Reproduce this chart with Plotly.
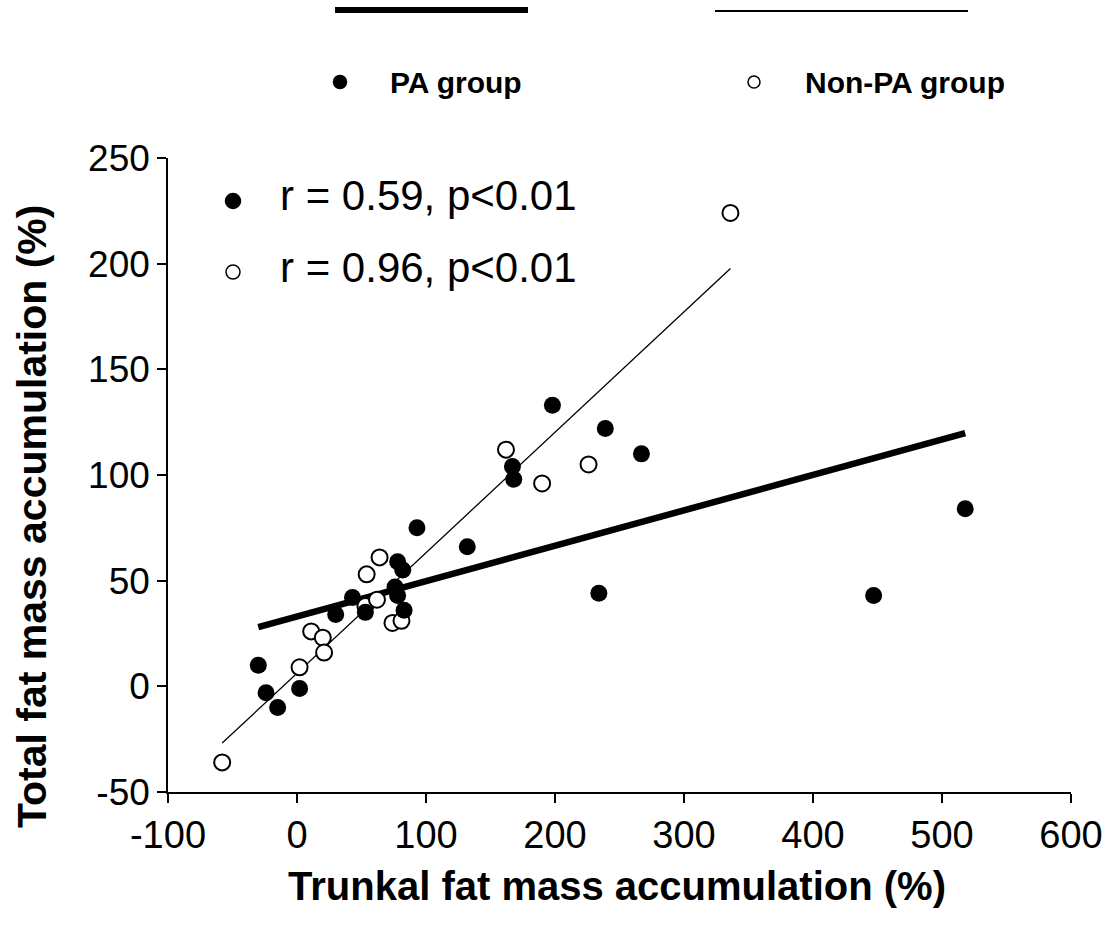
import plotly.graph_objects as go

# ---- data ----
pa_x = [-30, -24, -15, 2, 30, 43, 53, 76, 78, 78, 82, 83, 93, 132, 167, 168, 198, 234, 239, 267, 447, 518]
pa_y = [10, -3, -10, -1, 34, 42, 35, 47, 43, 59, 55, 36, 75, 66, 104, 98, 133, 44, 122, 110, 43, 84]

nonpa_x = [-58, 2, 11, 20, 21, 53, 54, 62, 64, 74, 81, 162, 190, 226, 336]
nonpa_y = [-36, 9, 26, 23, 16, 38, 53, 41, 61, 30, 31, 112, 96, 105, 224]

# regression lines (slope, intercept)
pa_fit = (0.1676, 33.0)
nonpa_fit = (0.570, 6.2)

x_ticks = [-100, 0, 100, 200, 300, 400, 500, 600]
y_ticks = [-50, 0, 50, 100, 150, 200, 250]

legend_labels = ["PA group", "Non-PA group"]
stat_labels = ["r = 0.59, p<0.01", "r = 0.96, p<0.01"]

FONT = "Arial, Liberation Sans, sans-serif"

fig = go.Figure()

def fit_line(xs, fit):
    x0, x1 = min(xs), max(xs)
    return [x0, x1], [fit[0] * x0 + fit[1], fit[0] * x1 + fit[1]]

lx, ly = fit_line(pa_x, pa_fit)
fig.add_trace(go.Scatter(x=lx, y=ly, mode="lines", line=dict(color="black", width=6.5), showlegend=False))
lx, ly = fit_line(nonpa_x, nonpa_fit)
fig.add_trace(go.Scatter(x=lx, y=ly, mode="lines", line=dict(color="black", width=1.3), showlegend=False))

fig.add_trace(go.Scatter(x=nonpa_x, y=nonpa_y, mode="markers",
                         marker=dict(symbol="circle", size=16, color="white",
                                     line=dict(color="black", width=2)), showlegend=False))
fig.add_trace(go.Scatter(x=pa_x, y=pa_y, mode="markers",
                         marker=dict(symbol="circle", size=17, color="black",
                                     line=dict(color="black", width=0)), showlegend=False))

shapes = []
annotations = []

def px2x(px):
    return (px - 168) / 903.0

def py2y(py):
    return (792 - py) / 634.0

def circle(px, py, d, filled):
    shapes.append(dict(type="circle", xref="paper", yref="paper",
                       xsizemode="pixel", ysizemode="pixel",
                       xanchor=px2x(px), yanchor=py2y(py),
                       x0=-d / 2, x1=d / 2, y0=-d / 2, y1=d / 2,
                       fillcolor="black" if filled else "white",
                       line=dict(color="black", width=1.5)))

# top legend lines
shapes.append(dict(type="line", xref="paper", yref="paper",
                   x0=px2x(335), x1=px2x(528), y0=py2y(10), y1=py2y(10),
                   line=dict(color="black", width=6)))
shapes.append(dict(type="line", xref="paper", yref="paper",
                   x0=px2x(715), x1=px2x(968), y0=py2y(11), y1=py2y(11),
                   line=dict(color="black", width=2)))
# top legend markers + text
circle(340, 82, 13, True)
circle(754, 82, 12, False)
annotations.append(dict(text="<b>" + legend_labels[0] + "</b>", xref="paper", yref="paper",
                        x=px2x(388), y=py2y(82), xanchor="left", yanchor="middle",
                        showarrow=False, font=dict(family=FONT, size=30, color="black")))
annotations.append(dict(text="<b>" + legend_labels[1] + "</b>", xref="paper", yref="paper",
                        x=px2x(803), y=py2y(82), xanchor="left", yanchor="middle",
                        showarrow=False, font=dict(family=FONT, size=30, color="black")))

# in-plot stats legend
circle(233, 201, 15, True)
circle(233, 272, 14, False)
annotations.append(dict(text=stat_labels[0], xref="paper", yref="paper",
                        x=px2x(278), y=py2y(196), xanchor="left", yanchor="middle",
                        showarrow=False, font=dict(family=FONT, size=42, color="black")))
annotations.append(dict(text=stat_labels[1], xref="paper", yref="paper",
                        x=px2x(278), y=py2y(267), xanchor="left", yanchor="middle",
                        showarrow=False, font=dict(family=FONT, size=42, color="black")))

# axis titles
annotations.append(dict(text="<b>Trunkal fat mass accumulation (%)</b>", xref="paper", yref="paper",
                        x=px2x(617), y=py2y(886), xanchor="center", yanchor="middle",
                        showarrow=False, font=dict(family=FONT, size=40, color="black")))
annotations.append(dict(text="<b>Total fat mass accumulation (%)</b>", xref="paper", yref="paper",
                        x=px2x(32), y=py2y(517), xanchor="center", yanchor="middle", textangle=-90,
                        showarrow=False, font=dict(family=FONT, size=41, color="black")))

fig.update_layout(
    width=1117, height=942,
    margin=dict(l=168, r=46, t=158, b=150),
    paper_bgcolor="white", plot_bgcolor="white",
    shapes=shapes, annotations=annotations,
    showlegend=False,
    xaxis=dict(range=[-100, 600], tickvals=x_ticks, ticktext=[str(v) for v in x_ticks],
               showgrid=False, zeroline=False, showline=True, linecolor="black", linewidth=1.5,
               ticks="outside", ticklen=9, tickwidth=1.5, tickcolor="black",
               tickfont=dict(family=FONT, size=38, color="black")),
    yaxis=dict(range=[-50, 250], tickvals=y_ticks, ticktext=[str(v) for v in y_ticks],
               showgrid=False, zeroline=False, showline=True, linecolor="black", linewidth=1.5,
               ticks="outside", ticklen=9, tickwidth=1.5, tickcolor="black",
               tickfont=dict(family=FONT, size=37, color="black")),
)

fig.write_html("out.html")
